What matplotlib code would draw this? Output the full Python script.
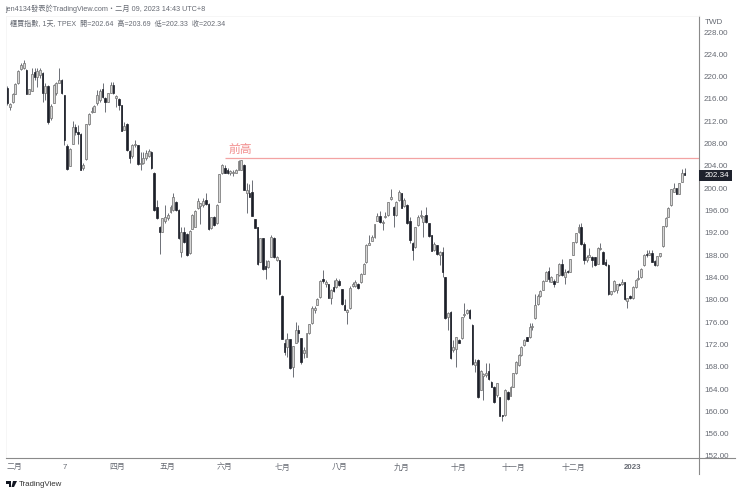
import matplotlib
matplotlib.use("Agg")
import matplotlib.pyplot as plt
from matplotlib.lines import Line2D
from matplotlib.patches import Rectangle, Polygon

plt.rcParams['font.family'] = ['Liberation Sans', 'Noto Sans CJK TC', 'DejaVu Sans']

opens = [217.9,214.5,215.5,216.9,218.8,221.4,221.5,221.2,216.9,217.5,
220.8,219.9,220.3,220.7,217.0,218.3,212.5,215.3,217.0,218.9,
219.4,216.7,207.6,204.0,208.0,210.9,210.1,209.8,203.6,205.2,
211.5,213.6,213.7,215.2,215.9,217.7,216.1,215.5,217.1,218.5,
216.2,216.0,214.9,210.5,211.6,206.7,205.7,207.7,207.7,204.3,
204.6,205.4,205.8,206.5,202.8,196.6,193.1,192.2,194.2,194.6,
195.8,196.1,197.6,196.1,188.6,192.2,191.8,188.3,192.7,193.1,
196.4,196.8,197.0,197.8,197.2,192.8,194.9,193.7,197.6,202.7,
203.6,203.3,202.8,202.7,202.8,203.3,203.3,204.2,199.2,199.2,
199.4,194.4,193.0,186.8,191.0,186.1,185.8,187.7,191.0,187.2,
187.1,180.7,172.2,171.6,172.9,167.9,172.3,174.6,173.1,170.4,
169.8,174.0,175.8,178.2,179.1,180.5,183.7,182.9,182.8,180.3,
182.3,182.3,183.4,181.9,179.0,177.9,178.5,182.4,182.4,182.9,
183.1,184.7,186.7,189.9,190.6,191.2,194.2,195.0,193.7,194.8,
195.2,198.0,196.7,195.2,197.8,199.1,196.8,197.0,194.1,190.2,
189.4,193.4,195.0,193.9,195.2,193.7,191.6,188.9,189.8,188.0,
188.6,184.0,177.0,177.9,171.0,171.1,172.8,173.1,177.2,177.6,
178.1,175.5,168.3,169.2,163.9,166.3,166.6,167.3,165.3,164.4,
162.9,162.5,159.3,159.3,163.5,162.8,164.4,166.8,168.3,170.1,
171.9,173.3,173.3,175.1,176.7,179.2,180.6,181.8,183.4,185.2,
183.2,183.4,183.2,184.4,186.5,184.0,185.2,185.0,188.1,190.3,
192.1,193.0,190.0,187.1,187.7,187.7,187.6,186.5,189.1,188.6,
186.7,186.3,181.0,181.5,181.8,182.9,182.8,183.1,179.8,180.7,
180.3,182.3,183.7,184.0,186.2,188.2,188.1,188.3,187.0,186.2,
187.8,189.6,193.2,194.9,197.0,199.4,200.0,199.0,201.2,202.64]

highs = [218.3,215.2,217.0,218.8,221.2,222.4,223.0,221.3,217.8,221.5,
221.5,221.5,221.5,220.8,218.8,218.5,215.1,218.6,219.1,221.5,
219.5,216.7,208.0,207.2,212.1,211.5,211.3,209.9,204.5,211.6,
213.4,214.6,214.9,217.6,217.7,218.8,216.4,217.1,219.1,219.1,
216.7,216.1,215.0,211.9,211.7,206.8,207.9,208.6,207.8,206.5,
206.5,206.8,207.1,206.6,202.9,197.9,193.2,194.7,197.0,195.5,
197.0,199.1,197.7,196.2,193.1,193.1,191.9,192.5,195.3,196.1,
198.2,197.4,198.2,199.1,197.3,194.9,195.0,197.1,202.6,204.3,
204.2,203.6,203.3,203.3,203.4,205.0,205.1,204.3,200.9,200.7,
201.5,194.5,193.1,191.1,191.1,187.1,187.1,191.6,191.3,187.9,
187.2,180.8,172.9,174.0,173.0,171.8,176.1,175.5,173.2,171.6,
174.1,175.7,178.8,178.8,180.3,183.6,185.3,183.5,182.9,181.9,
183.6,183.9,183.7,182.0,180.2,178.3,182.4,183.2,183.5,183.0,
184.8,186.6,190.0,191.6,191.6,193.6,195.6,196.0,194.3,195.8,
197.6,199.8,196.8,197.7,199.6,199.2,198.2,197.1,194.8,190.3,
193.1,195.2,196.1,195.1,196.7,193.8,191.7,190.4,189.9,188.7,
189.5,184.1,177.9,178.0,172.8,173.4,172.9,177.0,179.5,178.3,
178.3,175.6,169.3,169.3,167.4,166.8,168.6,168.6,165.4,164.5,
165.1,162.6,159.4,164.0,163.6,164.6,166.9,169.0,170.2,171.7,
172.9,173.4,175.8,175.9,181.1,181.1,181.7,183.5,185.1,185.9,
184.2,183.8,184.7,186.6,187.4,185.6,185.3,187.4,190.4,192.0,
193.6,193.8,190.4,188.0,189.2,187.8,187.7,189.4,190.1,188.7,
187.4,186.4,181.6,183.6,182.9,183.0,183.8,183.2,180.4,180.8,
182.4,183.8,185.3,185.7,188.2,189.0,189.0,188.9,187.1,187.9,
188.4,193.3,194.8,196.6,199.9,200.9,200.1,201.0,203.4,203.69]

lows = [214.9,214.1,215.3,216.8,218.7,221.2,221.3,216.8,216.8,217.5,
219.4,218.2,219.7,215.5,215.8,211.5,212.2,215.2,216.7,218.8,
216.9,207.7,203.3,203.9,207.9,209.5,208.0,203.2,203.3,205.1,
211.4,213.5,213.6,214.9,215.5,216.1,213.7,215.4,217.0,216.9,
214.6,214.0,210.2,210.4,206.7,204.6,205.4,207.4,204.2,203.3,
204.4,205.1,205.6,203.5,196.0,194.5,188.2,192.1,193.7,194.3,
195.5,196.0,196.0,190.9,187.6,190.1,187.9,188.2,192.6,193.0,
196.3,193.6,196.7,197.0,192.5,192.7,193.3,193.6,197.5,202.6,
202.7,202.5,202.4,202.2,202.7,203.2,203.2,199.6,195.5,198.4,
195.0,192.8,186.2,186.7,185.4,183.8,185.7,187.6,187.5,187.0,
180.9,172.9,170.1,169.8,167.6,166.2,172.2,172.5,168.5,169.5,
169.7,173.9,175.7,177.6,179.0,180.4,183.0,182.3,180.3,179.2,
181.4,182.2,182.5,179.1,178.1,175.6,178.4,182.3,182.3,182.0,
183.0,184.6,186.6,189.8,190.5,191.1,194.1,193.7,192.5,194.6,
195.1,197.9,193.0,195.1,197.7,196.4,196.7,193.6,190.1,187.2,
189.3,193.3,194.6,191.2,193.8,191.3,188.7,188.8,188.1,186.2,
184.0,176.6,174.6,169.4,170.7,168.0,172.2,173.0,177.0,177.5,
176.6,168.4,167.1,162.4,163.8,162.0,166.2,165.7,164.3,161.5,
162.5,159.1,158.2,159.2,162.1,162.7,164.3,166.7,168.2,170.0,
171.8,172.6,173.2,174.6,176.6,179.1,180.5,181.7,183.3,183.2,
183.1,182.3,183.1,184.3,184.3,182.8,184.8,184.9,188.0,190.2,
192.0,189.9,186.5,186.8,187.6,185.9,186.1,186.4,189.0,186.4,
186.1,180.9,180.9,181.4,181.3,182.5,182.7,180.0,178.5,180.2,
180.2,182.2,183.5,183.9,186.1,187.7,188.0,186.7,186.1,186.1,
187.7,189.5,193.1,194.8,196.9,199.3,198.9,198.9,201.1,202.33]

closes = [215.2,215.1,216.9,218.7,221.1,222.1,222.4,216.9,217.7,220.5,
220.0,221.1,221.2,217.0,218.3,211.9,214.7,218.5,218.9,219.4,
217.0,208.6,203.4,207.1,211.0,210.0,209.7,203.3,204.2,211.5,
213.3,213.8,214.7,216.7,217.5,216.4,215.5,217.0,218.5,217.0,
216.5,214.9,210.3,211.1,206.8,205.4,207.7,207.9,204.3,204.6,
205.4,206.3,206.7,203.6,196.1,194.6,192.1,194.6,194.9,195.2,
196.7,198.5,196.1,191.0,192.2,190.4,188.0,192.4,195.2,196.0,
197.7,197.3,197.7,197.2,192.6,194.8,193.4,197.0,202.5,204.2,
202.8,202.7,203.1,202.9,203.3,204.8,205.0,199.7,199.7,198.5,
195.1,192.9,186.4,191.0,185.5,185.5,187.0,191.3,187.6,187.7,
181.0,173.0,170.7,172.9,167.7,171.7,174.6,174.0,168.9,171.0,
174.0,175.6,178.6,178.5,180.1,183.4,183.4,183.2,180.4,181.8,
181.6,183.5,182.6,179.2,178.2,178.2,182.2,182.8,183.2,182.2,
184.6,186.5,189.8,190.2,191.3,193.5,195.0,194.0,194.0,195.0,
197.5,198.5,195.2,197.6,199.4,196.5,197.9,193.7,190.8,188.9,
193.0,194.8,195.2,195.0,193.9,191.4,188.8,190.0,188.2,188.6,
184.9,176.7,177.7,169.5,171.6,173.3,172.3,176.9,177.4,178.1,
176.7,168.5,168.9,162.5,167.3,166.7,166.8,165.8,164.4,161.6,
165.0,159.2,159.2,163.9,162.2,164.4,166.8,168.9,170.1,171.6,
172.8,172.7,175.2,175.3,179.1,180.6,181.6,183.4,185.0,183.8,
184.1,182.8,184.6,186.5,184.4,185.0,184.9,187.3,190.3,191.9,
193.0,190.0,187.2,187.7,188.0,187.2,186.2,189.2,189.3,186.5,
186.2,181.0,181.5,183.4,182.8,182.6,183.2,180.1,180.3,180.3,
182.3,183.5,183.9,185.6,188.1,188.0,188.4,186.8,186.2,187.8,
188.3,193.2,194.7,196.5,199.8,200.0,199.0,200.9,202.8,202.34]

month_pos = [2.5, 21.2, 40.3, 59, 80, 101, 122, 145, 166, 186, 208, 230]
month_labels = ['二月', '7', '四月', '五月', '六月', '七月', '八月', '九月', '十月', '十一月', '十二月', '2023']
price_ticks = list(range(152, 229, 4))
prev_high = 205.33
last_close = 202.34

W, H = 740, 494
grey = '#666a73'

fig = plt.figure(figsize=(W / 100, H / 100), dpi=100)
ax = fig.add_axes([6 / W, 1 - 458 / H, 693 / W, 442 / H])

x = list(range(len(opens)))
ax.vlines(x, lows, highs, color='#555861', lw=0.6, zorder=2)

for i in x:
    o, c = opens[i], closes[i]
    if c >= o:
        ax.bar(i, c - o, bottom=o, width=0.72, facecolor='#d6d6d6', edgecolor='#777777', lw=0.55, zorder=3)
    else:
        ax.bar(i, o - c, bottom=c, width=0.55, facecolor='#1c1f28', edgecolor='#1c1f28', lw=0.5, zorder=3)

# previous high line and its label
ax.hlines(prev_high, 80, 300, color='#f3a3a3', lw=0.9, zorder=1)
ax.text(81.3, prev_high + 1.6, '前高', color='#f28e8e', fontsize=8.5, ha='left', va='center')

ax.set_xlim(-0.48, 254.3)
ax.set_ylim(151.64, 230.87)

ax.yaxis.tick_right()
ax.set_yticks(price_ticks)
ax.set_yticklabels(['%.2f' % p for p in price_ticks], fontsize=5.8, color=grey)
ax.tick_params(axis='y', length=0, pad=3.6)
ax.set_xticks(month_pos)
ax.set_xticklabels(month_labels, fontsize=5.7, color=grey)
ax.tick_params(axis='x', length=0, pad=4)
ax.get_xticklabels()[-1].set_fontweight('bold')

for s in ['top', 'left']:
    ax.spines[s].set_color('#f5f5f5')
    ax.spines[s].set_linewidth(0.6)
for s in ['right', 'bottom']:
    ax.spines[s].set_color('#8a8a8a')
    ax.spines[s].set_linewidth(0.8)

# axis lines run on past the pane
fig.add_artist(Line2D([699 / W, 735 / W], [1 - 458 / H] * 2, color='#8a8a8a', lw=0.8))
fig.add_artist(Line2D([699 / W, 699 / W], [1 - 474 / H, 1 - 458 / H], color='#8a8a8a', lw=0.8))

# last price tag
fig.add_artist(Rectangle((699 / W, 1 - 180.5 / H), 33 / W, 10.5 / H, facecolor='#1e222d', edgecolor='none'))
fig.text(705 / W, 1 - 175.3 / H, '%.2f' % last_close, color='white', fontsize=5.8, va='center', ha='left')

fig.text(705 / W, 1 - 22.5 / H, 'TWD', color=grey, fontsize=5.8, va='center', ha='left')
fig.text(5.5 / W, 1 - 9 / H, 'jen4134發表於TradingView.com・二月 09, 2023 14:43 UTC+8', color=grey, fontsize=5.2, va='center')
fig.text(10 / W, 1 - 24.3 / H, '櫃買指數, 1天, TPEX  開=202.64  高=203.69  低=202.33  收=202.34', color=grey, fontsize=5.1, va='center')

# TradingView logo
fig.add_artist(Polygon([(6 / W, 1 - 481 / H), (11 / W, 1 - 481 / H), (11 / W, 1 - 487 / H), (8.5 / W, 1 - 487 / H), (8.5 / W, 1 - 483.5 / H), (6 / W, 1 - 483.5 / H)], closed=True, facecolor='#131722', edgecolor='none'))
fig.add_artist(Polygon([(13 / W, 1 - 481 / H), (17 / W, 1 - 481 / H), (14 / W, 1 - 487 / H), (11.5 / W, 1 - 487 / H)], closed=True, facecolor='#131722', edgecolor='none'))
fig.text(19 / W, 1 - 484 / H, 'TradingView', color='#333333', fontsize=5.7, va='center', ha='left')

fig.savefig('out.png', dpi=100)
